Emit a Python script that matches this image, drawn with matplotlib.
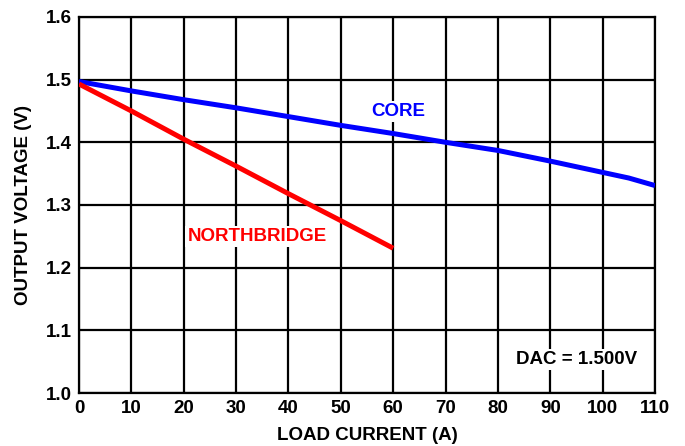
import matplotlib.pyplot as plt

plt.rcParams['font.family'] = ['Liberation Sans', 'DejaVu Sans']
plt.rcParams['font.weight'] = 'bold'

# load current (A) vs output voltage (V)
core_x = [0, 10, 20, 30, 40, 50, 60, 70, 80, 90, 100, 105, 110]
core_v = [1.497, 1.482, 1.468, 1.455, 1.441, 1.427, 1.414, 1.400, 1.387, 1.370, 1.352, 1.343, 1.331]
nb_x = [0, 10, 20, 30, 40, 50, 60]
nb_v = [1.493, 1.450, 1.405, 1.362, 1.318, 1.275, 1.231]

xticks = list(range(0, 111, 10))
yticks = [1.0, 1.1, 1.2, 1.3, 1.4, 1.5, 1.6]

fig = plt.figure(figsize=(6.85, 4.46), dpi=100)
ax = fig.add_axes([0.1153, 0.1188, 0.8409, 0.8432])

ax.plot(core_x, core_v, color='#0000ff', lw=3.6, solid_capstyle='butt', zorder=3)
ax.plot(nb_x, nb_v, color='#ff0000', lw=3.6, solid_capstyle='butt', zorder=3)

ax.set_xlim(0, 110)
ax.set_ylim(1.0, 1.6)
ax.set_xticks(xticks)
ax.set_yticks(yticks)
ax.set_yticklabels(['%.1f' % v for v in yticks])
ax.grid(True, color='black', lw=1.6)
ax.tick_params(length=0, labelsize=13.5, pad=5)
for s in ax.spines.values():
    s.set_linewidth(1.6)

ax.set_xlabel('LOAD CURRENT (A)', fontsize=13.5, fontweight='bold', labelpad=7)
ax.set_ylabel('OUTPUT VOLTAGE (V)', fontsize=13.5, fontweight='bold', labelpad=10)

bbox = dict(facecolor='white', edgecolor='none', pad=1.5)
ax.text(61, 1.449, 'CORE', color='#0000ff', fontsize=13.5, fontweight='bold',
        ha='center', va='center', bbox=bbox, zorder=4)
ax.text(34, 1.250, 'NORTHBRIDGE', color='#ff0000', fontsize=13.5, fontweight='bold',
        ha='center', va='center', bbox=bbox, zorder=4)
ax.text(106.6, 1.054, 'DAC = 1.500V', color='black', fontsize=13.5, fontweight='bold',
        ha='right', va='center', bbox=bbox, zorder=4)

plt.savefig('out.png', dpi=100)
